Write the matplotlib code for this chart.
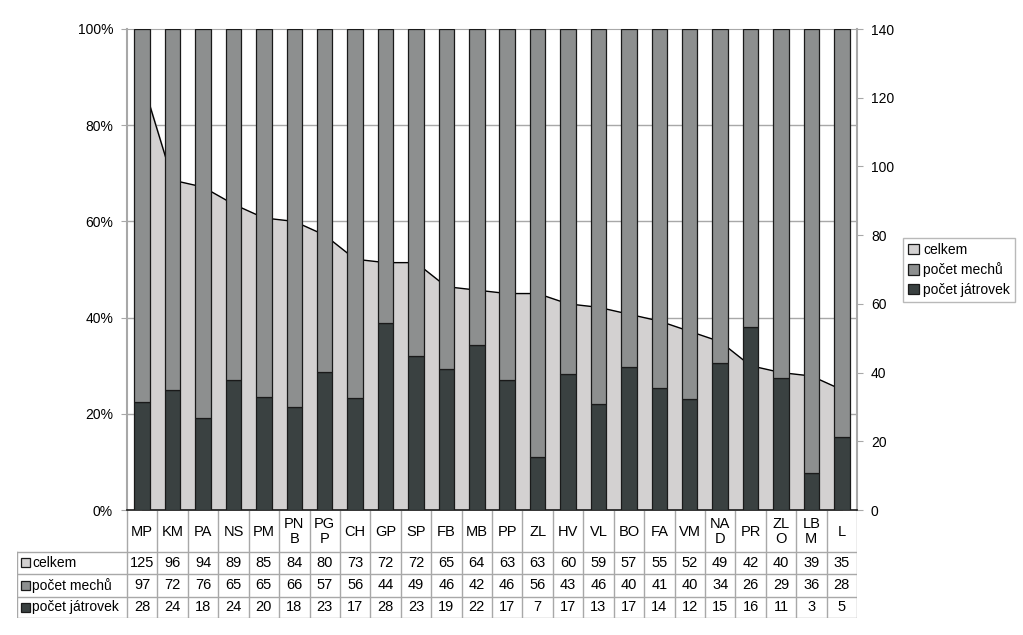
import matplotlib
matplotlib.use("Agg")
import matplotlib.pyplot as plt
from matplotlib.patches import Patch, Rectangle
import numpy as np

plt.rcParams['font.family'] = ['Liberation Sans', 'DejaVu Sans']

categories = ["MP", "KM", "PA", "NS", "PM", "PN\nB", "PG\nP", "CH", "GP", "SP", "FB", "MB",
              "PP", "ZL", "HV", "VL", "BO", "FA", "VM", "NA\nD", "PR", "ZL\nO", "LB\nM", "L"]
celkem = [125, 96, 94, 89, 85, 84, 80, 73, 72, 72, 65, 64, 63, 63, 60, 59, 57, 55, 52, 49, 42, 40, 39, 35]
mechu = [97, 72, 76, 65, 65, 66, 57, 56, 44, 49, 46, 42, 46, 56, 43, 46, 40, 41, 40, 34, 26, 29, 36, 28]
jatrovek = [28, 24, 18, 24, 20, 18, 23, 17, 28, 23, 19, 22, 17, 7, 17, 13, 17, 14, 12, 15, 16, 11, 3, 5]
series_names = ["celkem", "počet mechů", "počet játrovek"]
left_ticks = [0, 20, 40, 60, 80, 100]
right_ticks = [0, 20, 40, 60, 80, 100, 120, 140]

c_area = "#d3d1d1"
c_mech = "#8d8f8f"
c_jat = "#3a4141"
c_grid = "#a8a8a8"
c_tab = "#a8a8a8"

W, H = 1023, 635
fig = plt.figure(figsize=(W / 100, H / 100), dpi=100)

x0, x1, y0, y1 = 127, 857, 29, 510
rect = [x0 / W, 1 - y1 / H, (x1 - x0) / W, (y1 - y0) / H]

n = len(categories)
x = np.arange(n)
tot = np.array(mechu, float) + np.array(jatrovek, float)
pm = np.array(mechu) / tot * 100
pj = np.array(jatrovek) / tot * 100

# right axis (area) behind
axr = fig.add_axes(rect, zorder=1)
axr.set_xlim(-0.5, n - 0.5)
axr.set_ylim(0, 140)
axr.fill_between(x, 0, celkem, color=c_area, zorder=2)
axr.plot(x, celkem, color="black", lw=1.0, zorder=3)
axr.yaxis.tick_right()
axr.set_yticks(right_ticks)
axr.set_yticks([140 * t / 100 for t in left_ticks[1:-1]], minor=True)
axr.grid(which="minor", axis="y", color=c_grid, lw=1.0, zorder=0)
axr.tick_params(axis="y", which="minor", length=0)
axr.tick_params(axis="y", which="major", length=4, color=c_grid, labelsize=10, pad=6)
axr.set_xticks([])
for s in ["left", "bottom"]:
    axr.spines[s].set_visible(False)
axr.spines["right"].set_color(c_grid)
axr.spines["right"].set_linewidth(1.5)
axr.spines["top"].set_color(c_grid)

# left axis (bars) on top
axl = fig.add_axes(rect, zorder=2)
axl.patch.set_visible(False)
axl.set_xlim(-0.5, n - 0.5)
axl.set_ylim(0, 100)
bw = 0.51
axl.bar(x, pj, bw, color=c_jat, edgecolor="#1a1a1a", lw=0.9, zorder=3)
axl.bar(x, pm, bw, bottom=pj, color=c_mech, edgecolor="#1a1a1a", lw=0.9, zorder=3)
axl.set_yticks(left_ticks)
axl.set_yticklabels([f"{t}%" for t in left_ticks])
axl.tick_params(axis="y", length=4, color=c_grid, labelsize=10, pad=6)
axl.set_xticks([])
for s in ["top", "right"]:
    axl.spines[s].set_visible(False)
axl.spines["left"].set_color(c_grid)
axl.spines["left"].set_linewidth(1.5)
axl.spines["bottom"].set_color("#1a1a1a")
axl.spines["bottom"].set_linewidth(1.2)

# data table
tx0, ty0, ty1 = 17, 510, 618
tax = fig.add_axes([tx0 / W, 1 - ty1 / H, (x1 - tx0) / W, (ty1 - ty0) / H], zorder=0)
tax.set_xlim(tx0, x1)
tax.set_ylim(ty1, ty0)
tax.axis("off")
cw = (x1 - x0) / n
rows = [510, 551.5, 574, 596.5, 618]
lkw = dict(color=c_tab, lw=1.0)
for i in range(n + 1):
    xx = x0 + i * cw
    tax.plot([xx, xx], [rows[0], rows[-1]], **lkw)
tax.plot([tx0, tx0], [rows[1], rows[-1]], **lkw)
for r in rows[1:]:
    tax.plot([tx0, x1], [r, r], **lkw)
for i, c in enumerate(categories):
    tax.text(x0 + (i + 0.5) * cw, (rows[0] + rows[1]) / 2 + 1, c, ha="center", va="center",
             fontsize=10.5, linespacing=1.05)
vals = [celkem, mechu, jatrovek]
cols = [c_area, c_mech, c_jat]
for r, (name, v, col) in enumerate(zip(series_names, vals, cols)):
    yc = (rows[r + 1] + rows[r + 2]) / 2
    tax.add_patch(Rectangle((21, yc - 4.5), 9, 9, facecolor=col, edgecolor="#1a1a1a", lw=0.9))
    tax.text(32, yc, name, ha="left", va="center", fontsize=10)
    for i, val in enumerate(v):
        tax.text(x0 + (i + 0.5) * cw, yc, str(val), ha="center", va="center", fontsize=10.5)

# legend
handles = [Patch(facecolor=c, edgecolor="#1a1a1a", lw=0.9) for c in cols]
leg = fig.legend(handles, series_names, loc="upper left",
                 bbox_to_anchor=(903 / W, 1 - 238 / H), frameon=True, fancybox=False,
                 fontsize=10, handlelength=0.8, handleheight=0.8, handletextpad=0.3,
                 borderpad=0.35, labelspacing=0.4, borderaxespad=0)
leg.get_frame().set_edgecolor(c_tab)
leg.get_frame().set_linewidth(1.0)

fig.savefig("out.png", dpi=100)
